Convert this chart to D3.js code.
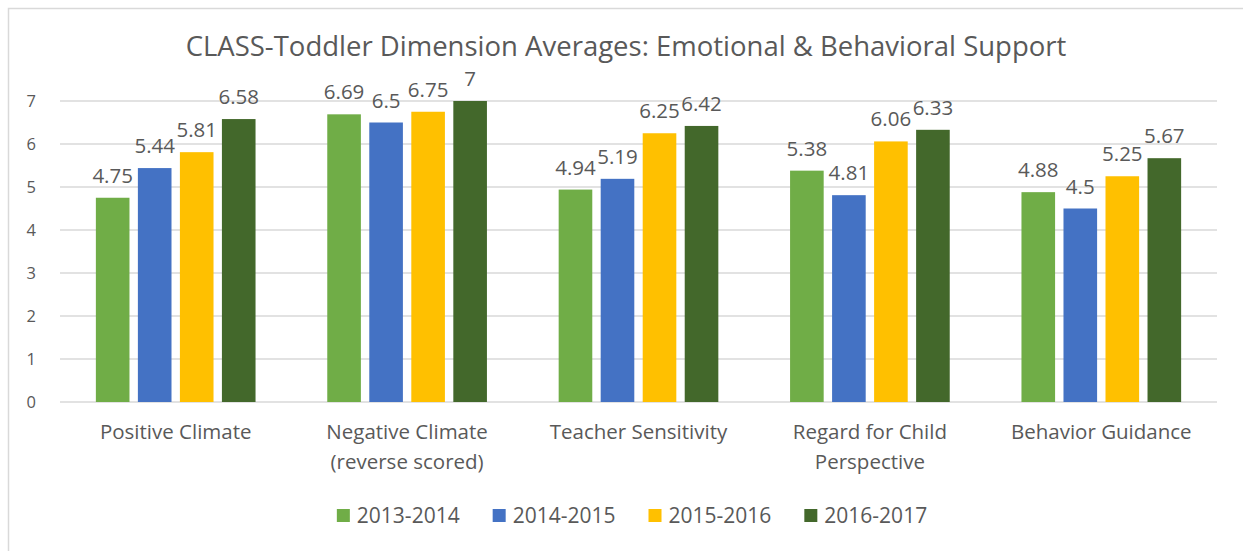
<!DOCTYPE html>
<html>
<head>
<meta charset="utf-8">
<script src="https://cdn.jsdelivr.net/npm/d3@7"></script>
<style>
  body { margin: 0; background: #fff; }
  text { font-family: "Open Sans", "Noto Sans", sans-serif; fill: #595959; }
</style>
</head>
<body>
<div id="chart"></div>
<script>
const categories = [
  ["Positive Climate"],
  ["Negative Climate", "(reverse scored)"],
  ["Teacher Sensitivity"],
  ["Regard for Child", "Perspective"],
  ["Behavior Guidance"]
];
const seriesNames = ["2013-2014", "2014-2015", "2015-2016", "2016-2017"];
const s2013 = [4.75, 6.69, 4.94, 5.38, 4.88];
const s2014 = [5.44, 6.5, 5.19, 4.81, 4.5];
const s2015 = [5.81, 6.75, 6.25, 6.06, 5.25];
const s2016 = [6.58, 7, 6.42, 6.33, 5.67];
const colors = ["#70ad47", "#4472c4", "#ffc000", "#43682b"];
const yTicks = [0, 1, 2, 3, 4, 5, 6, 7];
const title = "CLASS-Toddler Dimension Averages: Emotional & Behavioral Support";

const W = 1243, H = 551;
const plot = { left: 60, right: 1217, top: 101, bottom: 402 };
const series = [s2013, s2014, s2015, s2016];

const svg = d3.select("#chart").append("svg")
  .attr("width", W).attr("height", H);

// outer chart border (right and bottom edges fall outside the picture)
svg.append("rect")
  .attr("x", 8.5).attr("y", 8.5)
  .attr("width", W + 10).attr("height", H + 10)
  .attr("fill", "none").attr("stroke", "#d9d9d9").attr("stroke-width", 1.5);

svg.append("text")
  .attr("x", 626).attr("y", 55.5)
  .attr("text-anchor", "middle")
  .style("font-size", "27.5px")
  .text(title);

const catIdx = d3.range(categories.length);
const x0 = d3.scaleBand().domain(catIdx).range([plot.left, plot.right]).padding(0);
const groupW = x0.bandwidth() * 0.69;
const x1 = d3.scaleBand().domain(d3.range(seriesNames.length))
  .range([(x0.bandwidth() - groupW) / 2, (x0.bandwidth() + groupW) / 2])
  .paddingInner(0.2).paddingOuter(0);
const y = d3.scaleLinear().domain([0, 7]).range([plot.bottom, plot.top]);

// gridlines
svg.append("g").selectAll("line").data(yTicks).join("line")
  .attr("x1", plot.left).attr("x2", plot.right)
  .attr("y1", d => y(d)).attr("y2", d => y(d))
  .attr("stroke", "#d9d9d9").attr("stroke-width", 1.3);

// y axis labels
const yAxis = svg.append("g")
  .attr("transform", `translate(${plot.left - 24},0)`)
  .call(d3.axisLeft(y).tickValues(yTicks).tickFormat(d3.format("d")).tickSize(0).tickPadding(0));
yAxis.select(".domain").remove();
yAxis.selectAll("text").style("font-size", "16.5px").attr("fill", "#595959")
  .attr("font-family", null);

// bars
const groups = svg.append("g").selectAll("g").data(catIdx).join("g")
  .attr("transform", i => `translate(${x0(i)},0)`);

groups.selectAll("rect")
  .data(i => series.map((s, k) => ({ k, v: s[i] })))
  .join("rect")
  .attr("x", d => x1(d.k))
  .attr("width", x1.bandwidth())
  .attr("y", d => y(d.v))
  .attr("height", d => y(0) - y(d.v))
  .attr("fill", d => colors[d.k]);

groups.selectAll("text.lbl")
  .data(i => series.map((s, k) => ({ k, v: s[i] })))
  .join("text")
  .attr("class", "lbl")
  .attr("x", d => x1(d.k) + x1.bandwidth() / 2)
  .attr("y", d => y(d.v) - 15)
  .attr("text-anchor", "middle")
  .style("font-size", "20.5px")
  .text(d => d.v);

// category labels
const catG = svg.append("g").selectAll("text").data(catIdx).join("text")
  .attr("x", i => x0(i) + x0.bandwidth() / 2)
  .attr("y", 439)
  .attr("text-anchor", "middle")
  .style("font-size", "20.5px");
catG.selectAll("tspan").data(i => categories[i]).join("tspan")
  .attr("x", function () { return d3.select(this.parentNode).attr("x"); })
  .attr("dy", (d, j) => j === 0 ? 0 : 30)
  .text(d => d);

// legend, laid out from measured text widths and centred
const leg = svg.append("g");
const items = leg.selectAll("g").data(seriesNames).join("g");
items.append("rect").attr("x", 0).attr("y", -7).attr("width", 13).attr("height", 13)
  .attr("fill", (d, i) => colors[i]);
items.append("text").attr("x", 20).attr("y", 7).style("font-size", "21px").text(d => d);
let cx = 0;
const offs = [];
items.each(function () {
  offs.push(cx);
  cx += 20 + this.querySelector("text").getComputedTextLength() + 33;
});
const total = cx - 33;
items.attr("transform", (d, i) => `translate(${offs[i]},0)`);
leg.attr("transform", `translate(${632 - total / 2},516)`);
</script>
</body>
</html>
